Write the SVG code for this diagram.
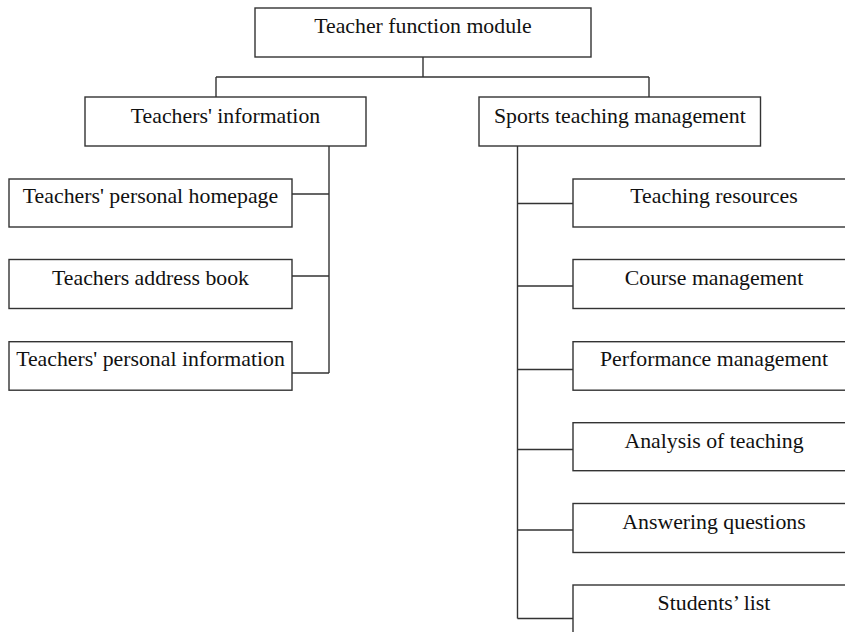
<svg xmlns="http://www.w3.org/2000/svg" width="845" height="632" viewBox="0 0 845 632">
<style>
.box{fill:#fff;stroke:#333;stroke-width:1.4}
.lbl{font-family:"Liberation Serif","Times New Roman",serif;font-size:21.8px;fill:#111;text-anchor:middle}
.conn{fill:none;stroke:#333;stroke-width:1.4}
</style>
<rect width="845" height="632" fill="#fff"/>
<g id="connectors" class="conn">
<path d="M423 57V77M216 77H649M216 77V97M649 77V97"/>
<path d="M329 146V373M292 194H329M292 276H329M292 373H329"/>
<path d="M517.5 146V618.5M517.5 203.5H573M517.5 286H573M517.5 369.5H573M517.5 449.5H573M517.5 530H573M517.5 618.5H573"/>
</g>
<g id="n-root"><rect class="box" x="255" y="8" width="336" height="49"/><text class="lbl" x="423" y="33">Teacher function module</text></g>
<g id="n-info"><rect class="box" x="85" y="97" width="281" height="49"/><text class="lbl" x="225.5" y="123">Teachers' information</text></g>
<g id="n-sports"><rect class="box" x="479" y="97" width="281.5" height="49"/><text class="lbl" x="619.8" y="123">Sports teaching management</text></g>
<g id="n-homepage"><rect class="box" x="9" y="179" width="283" height="48"/><text class="lbl" x="150.5" y="203.3">Teachers' personal homepage</text></g>
<g id="n-address"><rect class="box" x="9" y="259.5" width="283" height="49"/><text class="lbl" x="150.5" y="284.5">Teachers address book</text></g>
<g id="n-personal"><rect class="box" x="9" y="341.7" width="283" height="48.5"/><text class="lbl" x="150.5" y="366">Teachers' personal information</text></g>
<g id="n-resources"><rect class="box" x="573" y="179" width="283" height="48"/><text class="lbl" x="714" y="203.3">Teaching resources</text></g>
<g id="n-course"><rect class="box" x="573" y="259.5" width="283" height="49"/><text class="lbl" x="714" y="284.5">Course management</text></g>
<g id="n-performance"><rect class="box" x="573" y="341.7" width="283" height="48.5"/><text class="lbl" x="714" y="366">Performance management</text></g>
<g id="n-analysis"><rect class="box" x="573" y="422.7" width="283" height="48"/><text class="lbl" x="714" y="447.5">Analysis of teaching</text></g>
<g id="n-answering"><rect class="box" x="573" y="503.5" width="283" height="49"/><text class="lbl" x="714" y="528.5">Answering questions</text></g>
<g id="n-students"><rect class="box" x="573" y="585" width="283" height="60"/><text class="lbl" x="714" y="610">Students’ list</text></g>
</svg>
